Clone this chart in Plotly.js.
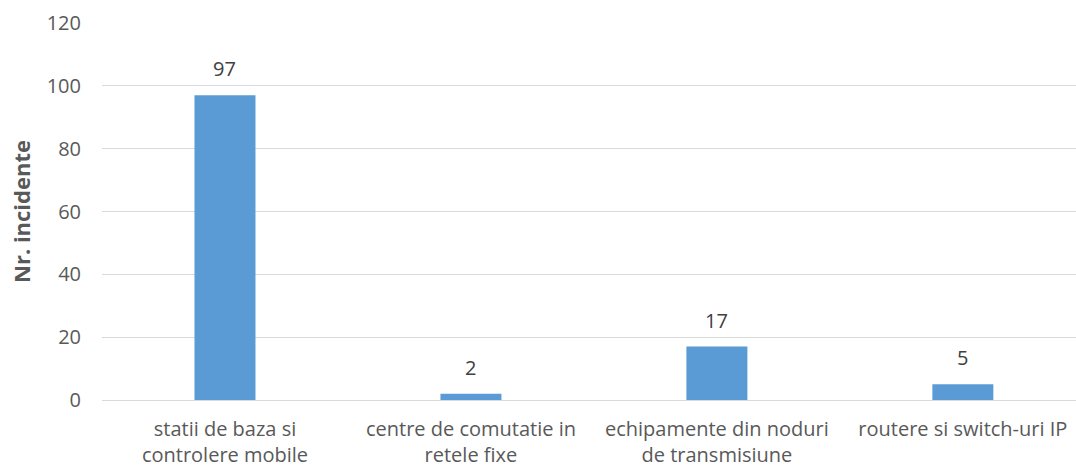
<!DOCTYPE html>
<html><head><meta charset="utf-8">
<script src="https://cdn.plot.ly/plotly-3.0.1.min.js"></script>
<style>body{margin:0;padding:0;background:#fff}#chart{width:1076px;height:467px}</style>
</head><body><div id="chart"></div>
<script>
const categories = ["statii de baza si<br>controlere mobile", "centre de comutatie in<br>retele fixe", "echipamente din noduri<br>de transmisiune", "routere si switch-uri IP"];
const values = [97, 2, 17, 5];
const yTicks = [0, 20, 40, 60, 80, 100, 120];

const font = "'Open Sans', sans-serif";
const annotations = categories.map((c, i) => ({
  x: c, y: values[i], xref: 'x', yref: 'y', text: String(values[i]),
  showarrow: false, yanchor: 'bottom', yshift: 11,
  font: {family: font, size: 20, color: '#404040'}
}));
Plotly.newPlot('chart', [{
  type: 'bar', x: categories, y: values,
  marker: {color: '#5B9BD5'},
  hoverinfo: 'none'
}], {
  width: 1076, height: 467,
  margin: {l: 102, r: 0, t: 23, b: 67},
  paper_bgcolor: '#fff', plot_bgcolor: '#fff',
  bargap: 0.752,
  font: {family: font, size: 20, color: '#595959'},
  showlegend: false,
  annotations: annotations,
  xaxis: {range: [-0.5, 3.46], showgrid: false, showline: true, linecolor: '#d9d9d9', linewidth: 1, ticks: '', ticklabelstandoff: 11, tickfont: {size: 20, color: '#595959'}},
  yaxis: {range: [0, 120], tickvals: yTicks, showgrid: true, gridcolor: '#d9d9d9', gridwidth: 1, zeroline: false, showline: false, ticks: '', ticklen: 0, ticklabelstandoff: 20,
    tickfont: {size: 20, color: '#595959'},
    title: {text: '<b>Nr. incidente</b>', font: {size: 22, color: '#595959'}, standoff: 9}}
}, {staticPlot: true});
</script></body></html>
